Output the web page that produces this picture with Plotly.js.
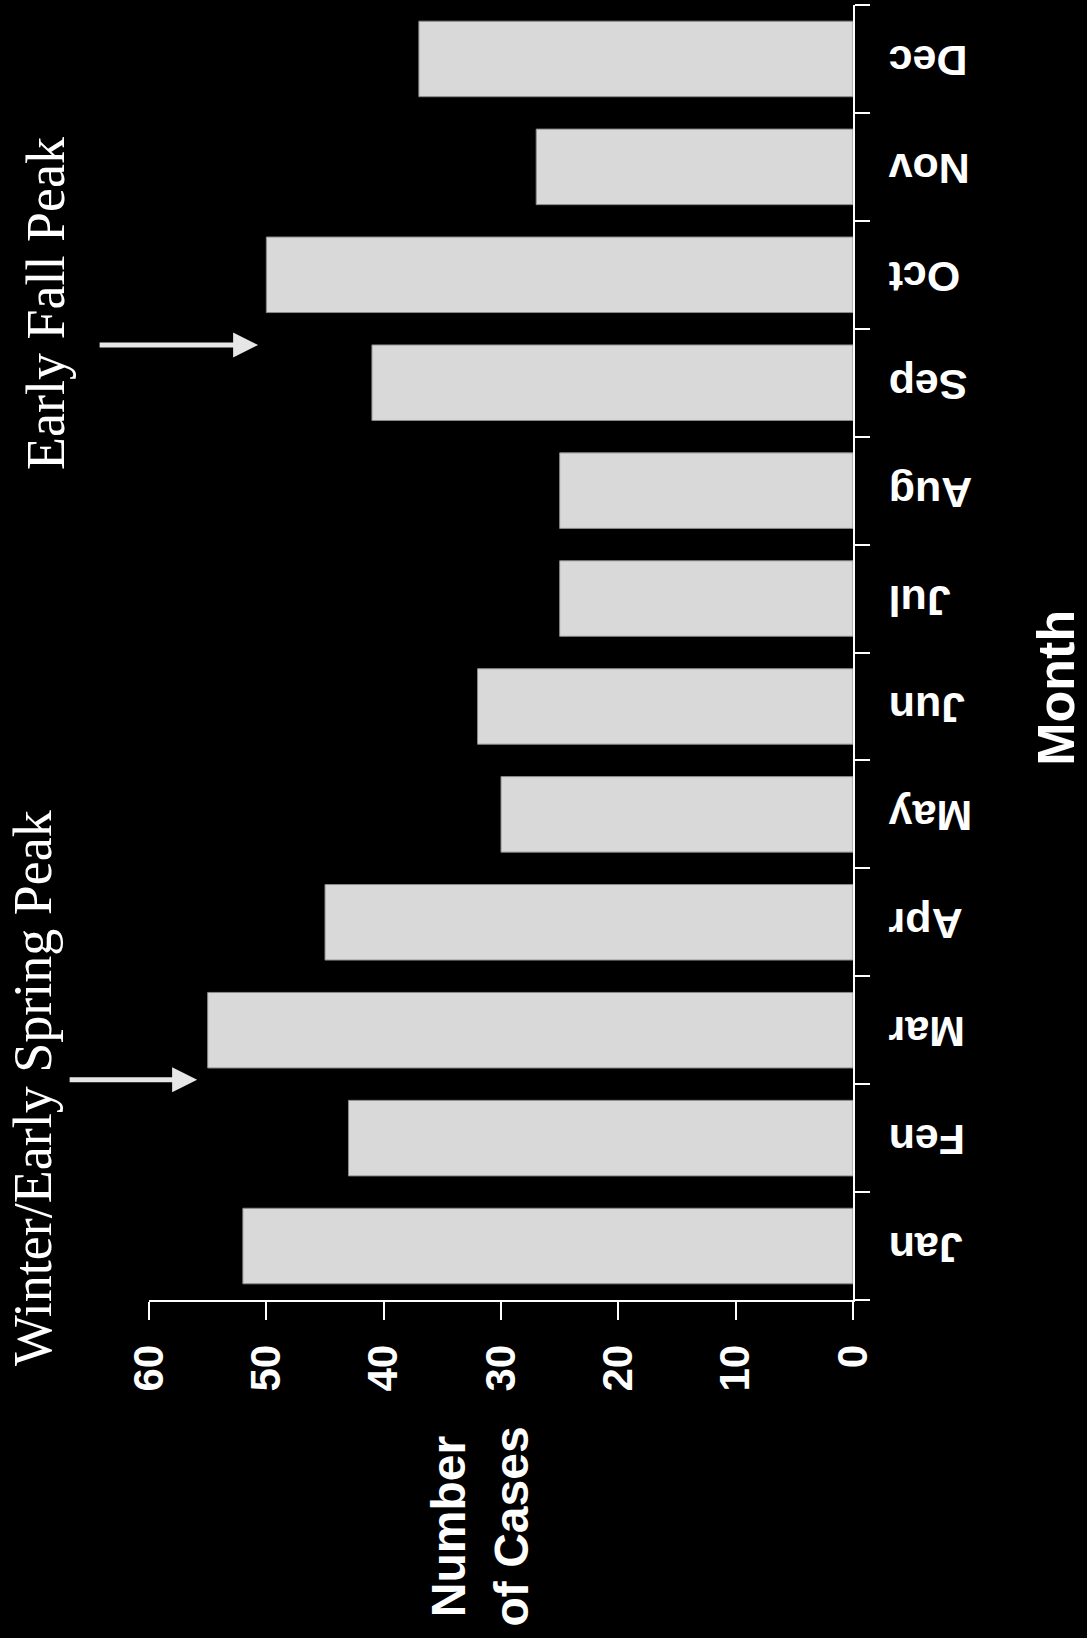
<!DOCTYPE html>
<html><head><meta charset="utf-8">
<script src="https://cdn.plot.ly/plotly-3.0.1.min.js"></script>
<style>html,body{margin:0;padding:0;background:#000;}</style>
</head><body><div id="chart" style="width:1087px;height:1638px;"></div>
<script>
const months = ['Jan','Fen','Mar','Apr','May','Jun','Jul','Aug','Sep','Oct','Nov','Dec'];
const cases = [52, 43, 55, 45, 30, 32, 25, 25, 41, 50, 27, 37];
const valueTicks = [0, 10, 20, 30, 40, 50, 60];
const valueTitle = 'Number<br>of Cases';
const monthTitle = 'Month';
const peakNotes = ['Winter/Early Spring Peak', 'Early Fall Peak'];
const peakArrowCases = [55.9, 50.7];
const peakArrowPos = [1.54, 8.35];

const sans = 'Liberation Sans, Arial, sans-serif';
const serif = 'Liberation Serif, Times New Roman, serif';

const trace = {
  type: 'bar',
  orientation: 'h',
  x: cases,
  y: months,
  width: 0.7,
  marker: {color: '#d9d9d9', line: {color: '#8a8a8a', width: 1}},
  hoverinfo: 'skip'
};

const layout = {
  width: 1087, height: 1638,
  paper_bgcolor: '#000', plot_bgcolor: '#000',
  margin: {l: 149, r: 234, t: 5, b: 338},
  showlegend: false,
  xaxis: {
    range: [60, 0], tickvals: valueTicks, ticktext: valueTicks.map(String),
    ticks: 'outside', ticklen: 18, tickwidth: 2, tickcolor: '#fff',
    tickangle: -90, ticklabelstandoff: 8,
    tickfont: {family: sans, size: 42, color: '#fff', weight: 'bold'},
    showline: true, linecolor: '#fff', linewidth: 2,
    showgrid: false, zeroline: false, fixedrange: true
  },
  yaxis: {
    type: 'category', categoryorder: 'array', categoryarray: months,
    range: [-0.5, 11.5], side: 'right',
    ticks: 'outside', tickson: 'boundaries', ticklen: 15, tickwidth: 2, tickcolor: '#fff',
    tickangle: 180, ticklabelposition: 'inside', ticklabelstandoff: -30, ticklabelshift: 15,
    tickfont: {family: sans, size: 43, color: '#fff', weight: 'bold'},
    showline: true, linecolor: '#fff', linewidth: 2,
    showgrid: false, zeroline: false, fixedrange: true
  },
  annotations: [
    {xref: 'paper', yref: 'paper', x: 0.470, y: -0.175, text: valueTitle, showarrow: false,
     textangle: -90, xanchor: 'center', yanchor: 'middle',
     font: {family: sans, size: 48, color: '#fff', weight: 'bold'}},
    {xref: 'paper', yref: 'paper', x: 1.288, y: 0.4726, text: monthTitle, showarrow: false,
     textangle: -90, xanchor: 'center', yanchor: 'middle',
     font: {family: sans, size: 52, color: '#fff', weight: 'bold'}},
    {xref: 'paper', yref: 'paper', x: (33 - 149) / 704, y: (1300 - 1088) / 1295, text: peakNotes[0], showarrow: false,
     textangle: -90, xanchor: 'center', yanchor: 'middle',
     font: {family: serif, size: 54, color: '#fff'}},
    {xref: 'paper', yref: 'paper', x: (46 - 149) / 704, y: (1300 - 304) / 1295, text: peakNotes[1], showarrow: false,
     textangle: -90, xanchor: 'center', yanchor: 'middle',
     font: {family: serif, size: 54, color: '#fff'}},
    {xref: 'x', yref: 'y', x: peakArrowCases[0], y: peakArrowPos[0], text: '', showarrow: true,
     arrowhead: 2, arrowsize: 1, arrowwidth: 5, arrowcolor: '#e6e6e6', ax: -129, ay: 0, standoff: 0},
    {xref: 'x', yref: 'y', x: peakArrowCases[1], y: peakArrowPos[1], text: '', showarrow: true,
     arrowhead: 2, arrowsize: 1, arrowwidth: 5, arrowcolor: '#e6e6e6', ax: -160, ay: 0, standoff: 0}
  ]
};

Plotly.newPlot('chart', [trace], layout, {displayModeBar: false, staticPlot: true});
</script>
</body></html>
